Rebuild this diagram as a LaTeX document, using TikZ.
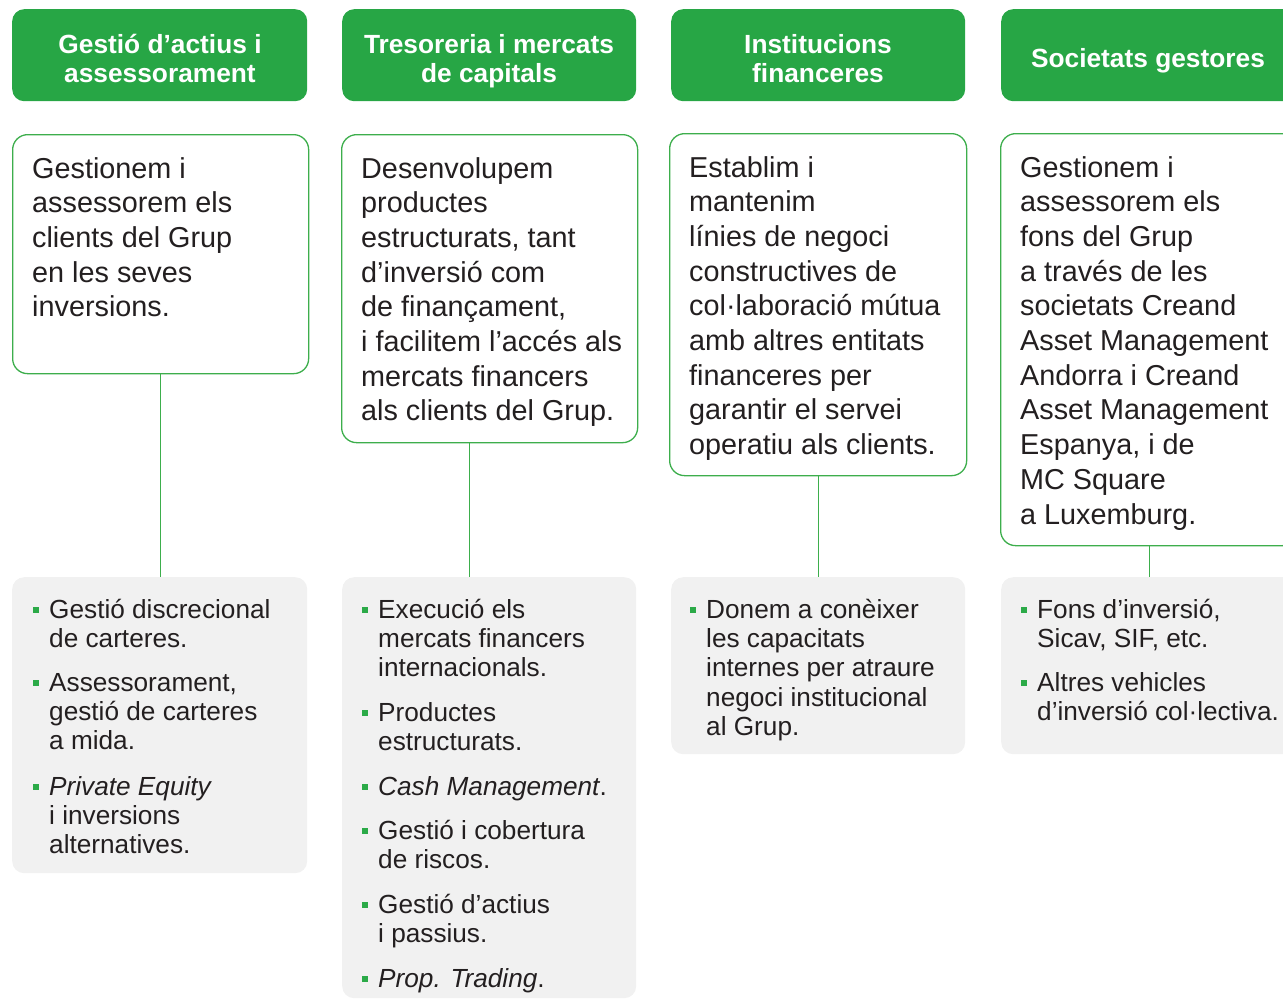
\documentclass[tikz,border=0pt]{standalone}
\usepackage{fontspec}
\setmainfont{Liberation Sans}
\definecolor{hdrgreen}{HTML}{27A645}
\definecolor{linegreen}{HTML}{3DAE4C}
\definecolor{boxgray}{HTML}{F1F1F1}
\definecolor{txt}{HTML}{231F20}
\definecolor{bulgreen}{HTML}{2BAA48}
\newcommand\mlines[1]{\vtop{\halign{##\hfil\cr#1\crcr}}}
\newcommand\clines[1]{\vtop{\halign{\hfil##\hfil\cr#1\crcr}}}
\tikzset{
  hdrbox/.style={fill=hdrgreen, rounded corners=12pt, minimum height=92pt, anchor=north west, inner sep=0pt},
  hdrtext/.style={anchor=base, text=white, font=\bfseries\fontsize{26.3}{29}\selectfont, inner sep=0pt},
  descbox/.style={draw=linegreen, line width=1.3pt, fill=white, rounded corners=15pt, anchor=north west, inner sep=0pt},
  desctext/.style={anchor=base west, text=txt, font=\fontsize{28.8}{34.7}\selectfont, inner sep=0pt},
  graybox/.style={fill=boxgray, rounded corners=12pt, anchor=north west, inner sep=0pt},
  itemtext/.style={anchor=base west, text=txt, font=\fontsize{26.2}{29.4}\selectfont, inner sep=0pt},
  bulsq/.style={fill=bulgreen, minimum size=6pt, inner sep=0pt},
  conn/.style={draw=linegreen, line width=1.2pt}
}
\begin{document}
\begin{tikzpicture}[x=1pt,y=-1pt]
\useasboundingbox (0,0) rectangle (1283,999);
\clip (0,0) rectangle (1283,999);
% headers
\node[hdrbox, minimum width=295pt] (h1) at (12,9) {};
\node[hdrbox, minimum width=294pt] (h2) at (342,9) {};
\node[hdrbox, minimum width=294pt] (h3) at (671,9) {};
\node[hdrbox, minimum width=295pt] (h4) at (1001,9) {};
\node[hdrtext] (ht1) at (160,53) {\clines{Gestió d’actius i\cr assessorament}};
\node[hdrtext] (ht2) at (489,53) {\clines{Tresoreria i mercats\cr de capitals}};
\node[hdrtext] (ht3) at (818,53) {\clines{Institucions\cr financeres}};
\node[hdrtext] (ht4) at (1148,67) {Societats gestores};
% description boxes
\node[descbox, minimum width=296pt, minimum height=239pt] (d1) at (12,134) {};
\node[descbox, minimum width=296pt, minimum height=308pt] (d2) at (341,134) {};
\node[descbox, minimum width=297pt, minimum height=342pt] (d3) at (669,133) {};
\node[descbox, minimum width=297pt, minimum height=412pt] (d4) at (1000,133) {};
\node[desctext] (dt1) at (32,178) {\mlines{Gestionem i\cr assessorem els\cr clients del Grup\cr en les seves\cr inversions.}};
\node[desctext] (dt2) at (361,178) {\mlines{Desenvolupem\cr productes\cr estructurats, tant\cr d’inversió com\cr de finançament,\cr i facilitem l’accés als\cr mercats financers\cr als clients del Grup.}};
\node[desctext] (dt3) at (689,177) {\mlines{Establim i\cr mantenim\cr línies de negoci\cr constructives de\cr col·laboració mútua\cr amb altres entitats\cr financeres per\cr garantir el servei\cr operatiu als clients.}};
\node[desctext] (dt4) at (1020,177) {\mlines{Gestionem i\cr assessorem els\cr fons del Grup\cr a través de les\cr societats Creand\cr Asset Management\cr Andorra i Creand\cr Asset Management\cr Espanya, i de\cr MC Square\cr a Luxemburg.}};
% gray boxes
\node[graybox, minimum width=295pt, minimum height=296pt] (g1) at (12,577) {};
\node[graybox, minimum width=294pt, minimum height=421pt] (g2) at (342,577) {};
\node[graybox, minimum width=294pt, minimum height=177pt] (g3) at (671,577) {};
\node[graybox, minimum width=295pt, minimum height=177pt] (g4) at (1001,577) {};
% connectors
\draw[conn] (d1.south) -- (d1.south |- g1.north);
\draw[conn] ([xshift=-20pt]d2.south) -- ([xshift=-20pt]d2.south |- g2.north);
\draw[conn] (d3.south) -- (d3.south |- g3.north);
\draw[conn] (d4.south) -- (d4.south |- g4.north);
% column 1 items
\node[itemtext] (i11) at (49,618) {\mlines{Gestió discrecional\cr de carteres.}};
\node[itemtext] (i12) at (49,691) {\mlines{Assessorament,\cr gestió de carteres\cr a mida.}};
\node[itemtext] (i13) at (49,795) {\mlines{\itshape Private Equity\cr i inversions\cr alternatives.}};
% column 2 items
\node[itemtext] (i21) at (378,618) {\mlines{Execució els\cr mercats financers\cr internacionals.}};
\node[itemtext] (i22) at (378,721) {\mlines{Productes\cr estructurats.}};
\node[itemtext] (i23) at (378,795) {{\itshape Cash Management}.};
\node[itemtext] (i24) at (378,839) {\mlines{Gestió i cobertura\cr de riscos.}};
\node[itemtext] (i25) at (378,913) {\mlines{Gestió d’actius\cr i passius.}};
\node[itemtext] (i26) at (378,987) {{\itshape Prop. Trading}.};
% column 3 items
\node[itemtext] (i31) at (706,618) {\mlines{Donem a conèixer\cr les capacitats\cr internes per atraure\cr negoci institucional\cr al Grup.}};
% column 4 items
\node[itemtext] (i41) at (1037,618) {\mlines{Fons d’inversió,\cr Sicav, SIF, etc.}};
\node[itemtext] (i42) at (1037,691) {\mlines{Altres vehicles\cr d’inversió col·lectiva.}};
% bullets
\foreach \n/\x/\y in {b11/36/610, b12/36/683, b13/36/787,
  b21/365/610, b22/365/713, b23/365/787, b24/365/831, b25/365/905, b26/365/979,
  b31/693/610, b41/1024/610, b42/1024/683}
  \node[bulsq] (\n) at (\x,\y) {};
\end{tikzpicture}
\end{document}
